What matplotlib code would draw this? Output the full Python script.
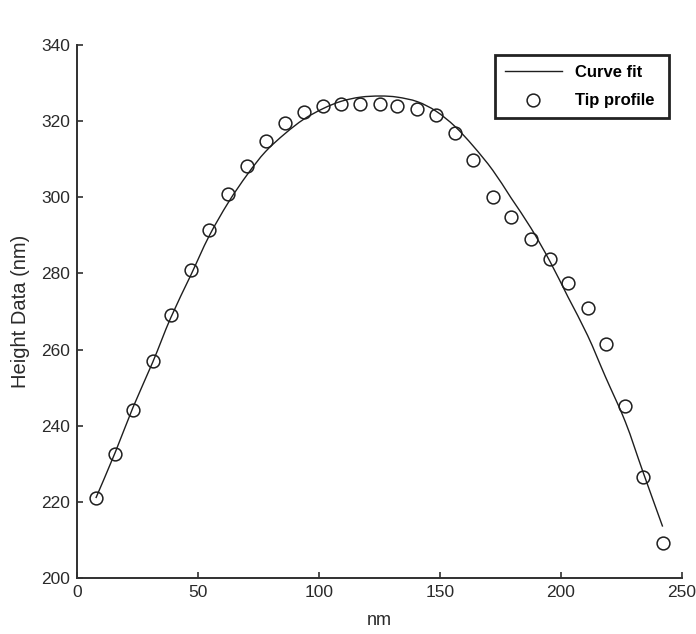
import matplotlib
matplotlib.use("Agg")
import matplotlib.pyplot as plt
from matplotlib.path import Path
from matplotlib.patches import PathPatch

# Tip profile samples (nm along scan, height in nm)
tip_x = [7.8, 15.8, 23.2, 31.3, 38.7, 47.0, 54.5, 62.5, 70.4, 77.9, 86.1,
         93.7, 101.7, 109.1, 117.1, 125.3, 132.4, 140.7, 148.4, 156.2, 163.8,
         171.8, 179.3, 187.6, 195.4, 202.9, 211.0, 218.4, 226.6, 233.8, 242.0]
tip_y = [220.9, 232.5, 244.2, 257.1, 269.0, 280.8, 291.4, 300.9, 308.2, 314.8,
         319.4, 322.4, 324.1, 324.4, 324.4, 324.4, 324.0, 323.1, 321.6, 316.9,
         309.9, 300.1, 294.9, 289.1, 283.7, 277.6, 271.0, 261.4, 245.3, 226.5,
         209.2]

# Fitted curve evaluated at the same positions
fit_y = [221.0, 233.0, 244.9, 256.7, 268.3, 279.5, 289.7, 298.6, 306.0, 312.0,
         316.8, 320.5, 323.3, 325.2, 326.3, 326.6, 326.3, 325.1, 322.6, 318.6,
         313.4, 307.1, 299.9, 291.9, 283.2, 273.8, 263.7, 252.8, 241.0, 228.0,
         213.5]

x_ticks = [0, 50, 100, 150, 200, 250]
y_ticks = [200, 220, 240, 260, 280, 300, 320, 340]

W, H = 696, 634
fig = plt.figure(figsize=(W / 100, H / 100), dpi=100)
fig.patch.set_facecolor("white")

left, right, top, bottom = 77, 682, 45, 578
ax = fig.add_axes([left / W, 1 - bottom / H, (right - left) / W, (bottom - top) / H])

sans = ["Liberation Sans", "DejaVu Sans"]
ink = "#2a2a2a"
line_col = "#1e1e1e"


def smooth_path(xs, ys):
    """Cubic Bezier path passing through every (x, y) sample."""
    n = len(xs)
    verts = [(xs[0], ys[0])]
    codes = [Path.MOVETO]
    for i in range(n - 1):
        x0, y0 = (xs[i - 1], ys[i - 1]) if i > 0 else (xs[i], ys[i])
        x1, y1 = xs[i], ys[i]
        x2, y2 = xs[i + 1], ys[i + 1]
        x3, y3 = (xs[i + 2], ys[i + 2]) if i + 2 < n else (x2, y2)
        c1 = (x1 + (x2 - x0) / 6.0, y1 + (y2 - y0) / 6.0)
        c2 = (x2 - (x3 - x1) / 6.0, y2 - (y3 - y1) / 6.0)
        verts += [c1, c2, (x2, y2)]
        codes += [Path.CURVE4] * 3
    return Path(verts, codes)


ax.add_patch(PathPatch(smooth_path(tip_x, fit_y), facecolor="none",
                       edgecolor=line_col, lw=1.0, zorder=2))
# proxy handle for the legend entry of the curve
ax.plot([], [], color=line_col, lw=1.0, label="Curve fit")
ax.plot(tip_x, tip_y, linestyle="none", marker="o", markersize=9.2,
        markerfacecolor="none", markeredgecolor=line_col, markeredgewidth=1.1,
        label="Tip profile", zorder=3)

ax.set_xlim(0, 250)
ax.set_ylim(200, 340)
ax.set_xticks(x_ticks)
ax.set_yticks(y_ticks)

for side in ("top", "right"):
    ax.spines[side].set_visible(False)
for side in ("left", "bottom"):
    ax.spines[side].set_color("#303030")
    ax.spines[side].set_linewidth(1.4)

ax.tick_params(direction="in", length=4.5, width=1.2, color="#303030",
               labelcolor=ink, labelsize=12.5, pad=5)
for lab in ax.get_xticklabels() + ax.get_yticklabels():
    lab.set_fontfamily(sans)

ax.set_xlabel("nm", fontsize=13, family=sans, color=ink)
ax.set_ylabel("Height Data (nm)", fontsize=14.5, family=sans, color=ink)
ax.xaxis.set_label_coords(0.5, -0.064)
ax.yaxis.set_label_coords(-0.078, 0.5)

# Legend box in the upper right
lx0, ly0, lx1, ly1 = 495, 55, 669, 122
leg = ax.legend(loc="upper left",
                bbox_to_anchor=(lx0 / W, 1 - ly1 / H, (lx1 - lx0) / W, (ly1 - ly0) / H),
                bbox_transform=fig.transFigure, mode="expand",
                borderaxespad=0, frameon=True, fancybox=False, shadow=False,
                handlelength=3.4, handletextpad=0.8, borderpad=0.6,
                labelspacing=0.8, numpoints=1,
                prop={"family": sans, "weight": "bold", "size": 12})
frame = leg.get_frame()
frame.set_edgecolor("#222222")
frame.set_linewidth(2.0)
frame.set_facecolor("white")
frame.set_alpha(1)

fig.savefig("out.png", dpi=100, facecolor="white")
